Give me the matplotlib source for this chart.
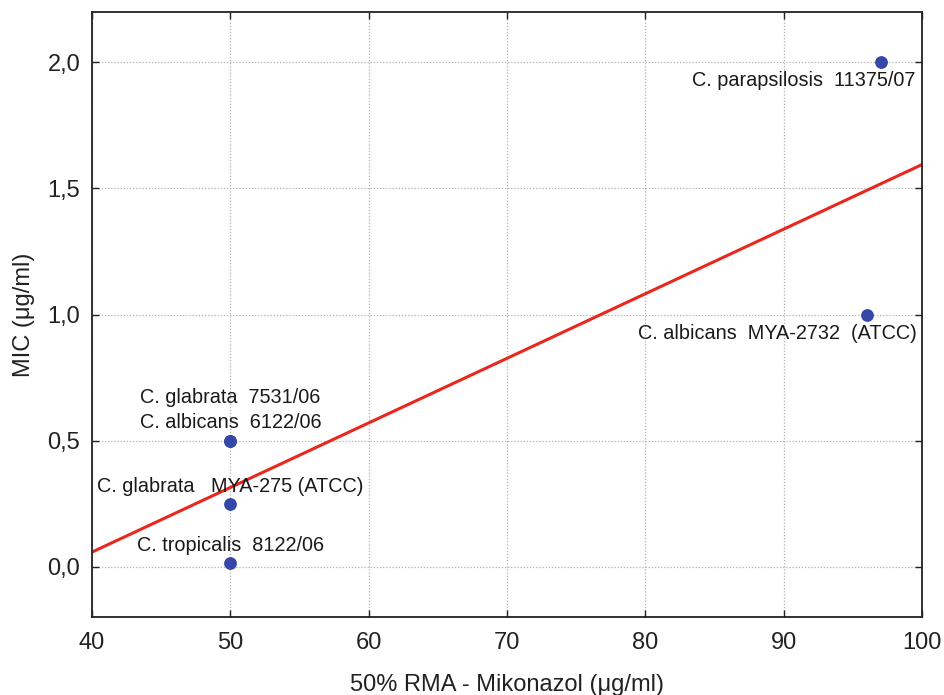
import numpy as np
import matplotlib
matplotlib.use("Agg")
import matplotlib.pyplot as plt
from matplotlib.ticker import FuncFormatter

plt.rcParams['font.family'] = ['Liberation Sans', 'DejaVu Sans']

# Strains: 50% RMA (x) versus MIC (y) for miconazole
strains = [
    "C. parapsilosis  11375/07",
    "C. albicans  MYA-2732  (ATCC)",
    "C. glabrata  7531/06",
    "C. albicans  6122/06",
    "C. glabrata   MYA-275 (ATCC)",
    "C. tropicalis  8122/06",
]
rma50 = [97, 96, 50, 50, 50, 50]
mic = [2.0, 1.0, 0.5, 0.5, 0.25, 0.016]

x_ticks = [40, 50, 60, 70, 80, 90, 100]
y_ticks = [0.0, 0.5, 1.0, 1.5, 2.0]

# label placement: (dx, dy) in pixels from the point, horizontal alignment
label_style = [
    ((35, -18), 'right'),
    ((50, -19), 'right'),
    ((-90, 43), 'left'),
    ((-90, 18), 'left'),
    ((0, 17), 'center'),
    ((0, 17), 'center'),
]

fig = plt.figure(figsize=(9.45, 6.95), dpi=100)
ax = fig.add_axes([0.0974, 0.1122, 0.8783, 0.8705])

ax.set_xlim(40, 100)
ax.set_ylim(-0.2, 2.2)

# least-squares regression line
slope, intercept = np.polyfit(rma50, mic, 1)
xl = np.array([40, 100])
ax.plot(xl, slope * xl + intercept, color='#e8281e', lw=2.2, zorder=2)

ax.scatter(rma50, mic, s=85, color='#3548a8', zorder=3, linewidths=0)

for name, x, y, (off, ha) in zip(strains, rma50, mic, label_style):
    ax.annotate(name, (x, y), xytext=off, textcoords='offset pixels',
                ha=ha, va='center', fontsize=14.3, color='#1a1a1a')

ax.set_xticks(x_ticks)
ax.set_yticks(y_ticks)
ax.yaxis.set_major_formatter(FuncFormatter(lambda v, p: f"{v:.1f}".replace('.', ',')))
ax.tick_params(direction='in', length=5, width=1, labelsize=17,
               top=True, right=True, colors='#222222')
ax.tick_params(axis='x', pad=11)
ax.tick_params(axis='y', pad=8.5)
ax.grid(True, color='#b0b0b0', linestyle=(0, (1, 1.5)), linewidth=0.9)
ax.set_axisbelow(True)
for s in ax.spines.values():
    s.set_color('#222222')
    s.set_linewidth(1.3)

ax.set_xlabel("50% RMA - Mikonazol (μg/ml)", fontsize=17, color='#222222', labelpad=14)
ax.set_ylabel("MIC (μg/ml)", fontsize=17, color='#222222', labelpad=9)

fig.savefig("out.png", dpi=100)
